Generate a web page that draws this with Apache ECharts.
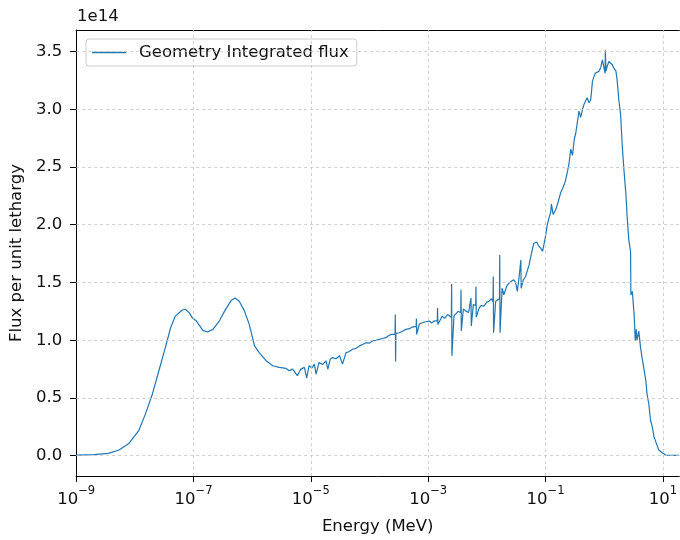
<!DOCTYPE html>
<html>
<head>
<meta charset="utf-8">
<script src="https://cdn.jsdelivr.net/npm/echarts@6/dist/echarts.min.js"></script>
<style>
  html, body { margin: 0; padding: 0; background: #fff; }
  #chart { width: 680px; height: 540px; }
</style>
</head>
<body>
<div id="chart"></div>
<script>
// energy as log10(E / MeV), flux per unit lethargy in units of 1e14
var energyExp = [
  -9.00, -8.70, -8.45, -8.27, -8.10, -7.93, -7.82, -7.70, -7.59, -7.48,
  -7.39, -7.31, -7.19, -7.14, -7.07, -7.02, -6.95, -6.84, -6.76, -6.67,
  -6.56, -6.47, -6.36, -6.29, -6.22, -6.13, -6.05, -5.96, -5.88, -5.76,
  -5.65, -5.54, -5.42, -5.37, -5.31, -5.23, -5.17, -5.11, -5.07, -5.03,
  -4.98, -4.94, -4.91, -4.86, -4.80, -4.74, -4.71, -4.67, -4.63, -4.57,
  -4.51, -4.46, -4.40, -4.35, -4.29, -4.23, -4.17, -4.11, -4.06, -4.00,
  -3.95, -3.89, -3.83, -3.78, -3.72, -3.67, -3.63, -3.565, -3.56, -3.555,
  -3.55, -3.49, -3.43, -3.38, -3.32, -3.27, -3.205, -3.20, -3.195, -3.15,
  -3.10, -3.04, -2.98, -2.94, -2.90, -2.845, -2.84, -2.835, -2.76, -2.72,
  -2.67, -2.64, -2.605, -2.60, -2.595, -2.56, -2.53, -2.49, -2.445, -2.44,
  -2.435, -2.40, -2.36, -2.31, -2.27, -2.265, -2.23, -2.19, -2.185, -2.18,
  -2.13, -2.10, -2.05, -2.00, -1.96, -1.92, -1.895, -1.89, -1.885, -1.85,
  -1.82, -1.785, -1.78, -1.775, -1.74, -1.71, -1.66, -1.62, -1.58, -1.54,
  -1.51, -1.48, -1.45, -1.42, -1.415, -1.38, -1.34, -1.31, -1.28, -1.24,
  -1.20, -1.15, -1.12, -1.08, -1.05, -1.03, -1.00, -0.97, -0.94, -0.91,
  -0.90, -0.87, -0.83, -0.80, -0.77, -0.74, -0.71, -0.68, -0.66, -0.63,
  -0.60, -0.57, -0.54, -0.51, -0.485, -0.46, -0.43, -0.40, -0.37, -0.345,
  -0.32, -0.29, -0.26, -0.23, -0.20, -0.175, -0.15, -0.12, -0.09, -0.06,
  -0.03, 0.015, 0.02, 0.03, 0.05, 0.08, 0.11, 0.14, 0.16, 0.18,
  0.20, 0.22, 0.25, 0.28, 0.31, 0.34, 0.37, 0.39, 0.42, 0.45,
  0.455, 0.48, 0.51, 0.53, 0.545, 0.56, 0.59, 0.62, 0.65, 0.71,
  0.73, 0.76, 0.79, 0.82, 0.85, 0.88, 0.90, 0.93, 0.99, 1.05,
  1.28
];
var flux = [
  0.005, 0.010, 0.020, 0.050, 0.106, 0.220, 0.360, 0.535, 0.736, 0.936,
  1.108, 1.209, 1.262, 1.268, 1.237, 1.194, 1.166, 1.085, 1.071, 1.094,
  1.166, 1.252, 1.343, 1.366, 1.338, 1.252, 1.137, 0.951, 0.893, 0.822,
  0.779, 0.765, 0.756, 0.736, 0.750, 0.693, 0.750, 0.765, 0.673, 0.779,
  0.760, 0.793, 0.707, 0.808, 0.790, 0.822, 0.750, 0.835, 0.850, 0.840,
  0.865, 0.793, 0.893, 0.900, 0.922, 0.930, 0.951, 0.965, 0.979, 0.975,
  0.994, 1.000, 1.008, 1.015, 1.022, 1.040, 1.051, 1.050, 1.222, 0.816,
  1.060, 1.065, 1.080, 1.094, 1.100, 1.114, 1.120, 1.188, 1.050, 1.140,
  1.151, 1.160, 1.166, 1.150, 1.166, 1.170, 1.280, 1.137, 1.209, 1.190,
  1.222, 1.230, 1.200, 1.486, 0.865, 1.210, 1.222, 1.250, 1.240, 1.437,
  1.080, 1.270, 1.252, 1.240, 1.366, 1.123, 1.310, 1.300, 1.466, 1.200,
  1.280, 1.300, 1.295, 1.330, 1.338, 1.360, 1.330, 1.552, 1.065, 1.338,
  1.350, 1.360, 1.738, 1.065, 1.450, 1.394, 1.470, 1.495, 1.510, 1.523,
  1.500, 1.423, 1.550, 1.695, 1.450, 1.520, 1.552, 1.600, 1.652, 1.750,
  1.838, 1.850, 1.820, 1.795, 1.770, 1.781, 1.900, 1.996, 2.060, 2.110,
  2.180, 2.090, 2.125, 2.170, 2.225, 2.280, 2.311, 2.350, 2.382, 2.450,
  2.526, 2.655, 2.600, 2.740, 2.790, 2.798, 2.984, 2.930, 2.998, 3.040,
  3.070, 3.100, 3.056, 3.080, 3.241, 3.280, 3.314, 3.300, 3.328, 3.360,
  3.428, 3.310, 3.510, 3.330, 3.370, 3.413, 3.400, 3.385, 3.360, 3.370,
  3.330, 3.256, 3.080, 2.955, 2.669, 2.454, 2.268, 2.082, 1.867, 1.767,
  1.394, 1.423, 1.222, 0.994, 1.094, 1.000, 1.080, 0.936, 0.836, 0.650,
  0.536, 0.450, 0.307, 0.250, 0.163, 0.120, 0.092, 0.049, 0.026, 0.006,
  0.003
];
var xTicks = [-9, -7, -5, -3, -1, 1];
var yTicks = [0, 0.5, 1, 1.5, 2, 2.5, 3, 3.5];

var font = 'DejaVu Sans';
var fs = 16.5;
var gridStyle = { color: '#c4c4c4', width: 0.8, type: [3, 3] };

var chart = echarts.init(document.getElementById('chart'), null, { renderer: 'canvas' });

chart.setOption({
  animation: false,
  backgroundColor: '#fff',
  textStyle: { fontFamily: font },
  grid: { left: 76, right: 0, top: 30, bottom: 60 },
  graphic: [{
    type: 'text', left: 77, top: 8,
    style: { text: '1e14', font: fs + 'px "DejaVu Sans"', fill: '#111' }
  }],
  legend: {
    data: [{ name: 'Geometry Integrated flux', icon: 'rect' }],
    left: 86, top: 39,
    padding: [5, 8, 5, 6],
    itemWidth: 34, itemHeight: 1.4,
    backgroundColor: 'rgba(255,255,255,0.8)',
    borderColor: '#cccccc', borderWidth: 1, borderRadius: 3,
    textStyle: { fontFamily: font, fontSize: fs, color: '#111', padding: [0, 0, 0, 8] }
  },
  xAxis: [{
    type: 'value', min: -9, max: 1.28,
    name: 'Energy (MeV)', nameLocation: 'middle', nameGap: 42,
    nameTextStyle: { fontFamily: font, fontSize: fs, color: '#111' },
    axisLine: { show: true, onZero: false, lineStyle: { color: '#000', width: 1 } },
    axisTick: { show: true, length: 6, customValues: xTicks, lineStyle: { color: '#000' } },
    axisLabel: {
      customValues: xTicks, margin: 9, color: '#111',
      formatter: function (v) {
        var e = v < 0 ? '\u2212' + Math.abs(v) : String(v);
        return '{b|10}{s|' + e + '}';
      },
      rich: {
        b: { fontFamily: font, fontSize: fs, color: '#111', lineHeight: 23, verticalAlign: 'bottom' },
        s: { fontFamily: font, fontSize: 11.5, color: '#111', verticalAlign: 'top', lineHeight: 23 }
      }
    },
    splitLine: { show: false }
  }, {
    type: 'value', position: 'top', min: -9, max: 1.28,
    axisLine: { show: true, onZero: false, lineStyle: { color: '#000', width: 1 } },
    axisTick: { show: false }, axisLabel: { show: false }, splitLine: { show: false }
  }],
  yAxis: {
    type: 'value', min: -0.1755, max: 3.686,
    name: 'Flux per unit lethargy', nameLocation: 'middle', nameGap: 43,
    nameTextStyle: { fontFamily: font, fontSize: fs, color: '#111' },
    axisLine: { show: true, onZero: false, lineStyle: { color: '#000', width: 1 } },
    axisTick: { show: true, length: 6, customValues: yTicks, lineStyle: { color: '#000' } },
    axisLabel: {
      customValues: yTicks, margin: 14, color: '#111', fontSize: fs, fontFamily: font,
      formatter: function (v) { return v.toFixed(1); }
    },
    splitLine: { show: false }
  },
  series: [{
    name: 'gridlines', type: 'line', data: [], z: 1, silent: true,
    markLine: {
      silent: true, symbol: 'none', label: { show: false },
      lineStyle: gridStyle,
      data: xTicks.filter(function (v) { return v > -9; })
        .map(function (v) { return { xAxis: v }; })
        .concat(yTicks.map(function (v) { return { yAxis: v }; }))
    }
  }, {
    name: 'Geometry Integrated flux', type: 'line', z: 3,
    symbol: 'none', showSymbol: false,
    lineStyle: { color: '#1f77b4', width: 1.2 },
    itemStyle: { color: '#1f77b4' },
    data: energyExp.map(function (e, i) { return [e, flux[i]]; })
  }]
});
</script>
</body>
</html>
